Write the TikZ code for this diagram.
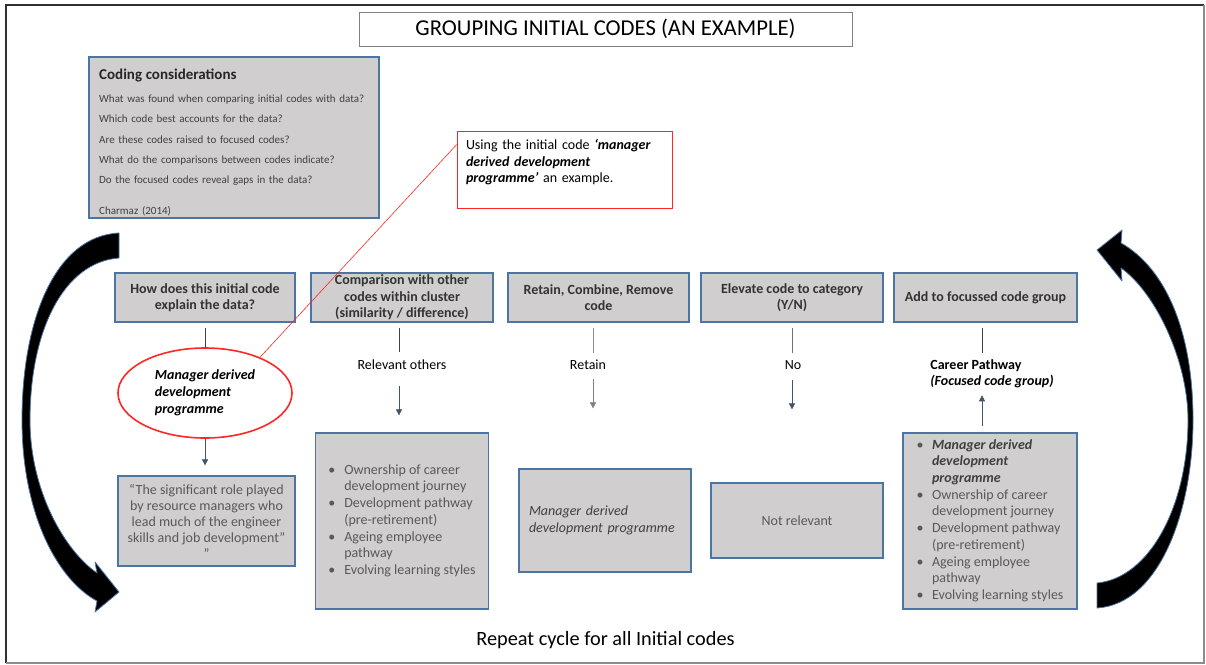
\documentclass[tikz,border=0pt]{standalone}
\usepackage{fontspec}
\setmainfont{Carlito}
\usetikzlibrary{shapes.geometric,arrows.meta}
\definecolor{boxfill}{HTML}{D0CECE}
\definecolor{boxline}{HTML}{4A75A5}
\definecolor{hdtext}{HTML}{333333}
\definecolor{bodytext}{HTML}{595959}
\definecolor{darktext}{HTML}{404040}
\definecolor{arrowc}{HTML}{44546A}
\definecolor{redc}{HTML}{FF2626}
\definecolor{framec}{HTML}{303030}
\newcommand{\fsz}[2]{\fontsize{#1}{#2}\selectfont}
\newcommand{\bulit}{\makebox[16pt][l]{•}}
\newcommand{\bulitb}{\makebox[15.5pt][l]{•}}
\begin{document}
\begin{tikzpicture}[x=1pt,y=-1pt,
  graybox/.style={draw=boxline, line width=1.2pt, fill=boxfill, inner sep=0pt},
  headbox/.style={graybox, minimum height=49pt, text=hdtext, font=\fsz{14}{16.5}\bfseries, align=center},
  bodybox/.style={graybox, text=bodytext, font=\fsz{14}{16.7}},
  lbl/.style={inner sep=0pt, text height=10pt, text depth=3.5pt, font=\fsz{14}{16.5}},
  conn/.style={draw=black!75, line width=0.6pt},
  arr/.style={draw=arrowc, line width=0.6pt, -{Triangle[width=6pt,length=6pt]}},
  bigarrow/.style={fill=black, draw=boxline, line width=0.8pt, line join=round},
]
\useasboundingbox (0,0) rectangle (1206,664);
\fill[white] (0,0) rectangle (1206,664);
% frame
\draw[framec, line width=2pt] (6,663) -- (6,5) -- (1204,5);
\draw[black!45, line width=1.5pt] (1204,5) -- (1204,663) -- (6,663);

% title
\node[draw=black!50, line width=0.8pt, minimum width=493pt, minimum height=34pt, inner sep=0pt, font=\fsz{22.7}{24}] (title) at (605.5,29) {GROUPING INITIAL CODES (AN EXAMPLE)};

% coding considerations
\node[graybox, minimum width=290pt, minimum height=161pt] (cc) at (234,137.5) {};
\node[anchor=north west, inner sep=0pt, text width=275pt, align=left, text=darktext, font=\fsz{11}{20.4}] (cctext) at (99,68.6)
 {{\fsz{15}{16}\bfseries\color{black!85} Coding considerations}\\[2.6pt]
  What was found when comparing initial codes with data?\\
  Which code best accounts for the data?\\
  Are these codes raised to focused codes?\\
  What do the comparisons between codes indicate?\\
  Do the focused codes reveal gaps in the data?\\[10pt]
  Charmaz (2014)};

% big curved arrows
\path[bigarrow] (119,233) .. controls (55,236) and (22,320) .. (22,420)
  .. controls (22,510) and (55,578) .. (97,601) -- (95,612) -- (119,592) -- (95,562) -- (97,573)
  .. controls (64,550) and (30,490) .. (30,420)
  .. controls (30,330) and (64,262) .. (119,258) -- cycle;
\path[bigarrow] (1097,608) .. controls (1160,604) and (1193,510) .. (1193,420)
  .. controls (1193,330) and (1165,268) .. (1121,243) -- (1122,230) -- (1097,250) -- (1122,281) -- (1121,268)
  .. controls (1155,292) and (1188,360) .. (1188,420)
  .. controls (1188,505) and (1150,578) .. (1097,583) -- cycle;

% header boxes
\node[headbox, minimum width=180pt] (h1) at (205,297.5) {How does this initial code\\explain the data?};
\node[headbox, minimum width=182pt] (h2) at (402,297.5) {Comparison with other\\codes within cluster\\(similarity / difference)};
\node[headbox, minimum width=181pt] (h3) at (598.5,297.5) {Retain, Combine, Remove\\code};
\node[headbox, minimum width=182pt] (h4) at (792,297.5) {Elevate code to category\\(Y/N)};
\node[headbox, minimum width=183pt] (h5) at (985.5,297.5) {Add to focussed code group};

% column coordinates
\coordinate (c1) at (205,0);
\coordinate (c2) at (399,0);
\coordinate (c3) at (593,0);
\coordinate (c4) at (792,0);
\coordinate (c5) at (982,0);

% red example box and leader line
\node[draw=redc, line width=0.8pt, fill=white, minimum width=215pt, minimum height=77pt, inner sep=0pt,
      text width=197pt, align=left, font=\fsz{14}{16.5}] (rb) at (564.5,169.5)
 {Using the initial code \textbf{\textit{‘manager}}\\\textbf{\textit{derived development}}\\\textbf{\textit{programme’}} an example.\\\mbox{}};

% ellipse
\node[ellipse, draw=redc, line width=1.6pt, fill=white, minimum width=174pt, minimum height=90pt, inner sep=0pt,
      align=left, font=\fsz{14}{17}\bfseries\itshape] (ell) at (205,393) {Manager derived\\development\\programme};
\draw[redc, line width=0.6pt] (rb.167) -- (ell.33);

% quote box
\node[bodybox, minimum width=177pt, minimum height=90pt, align=center, font=\fsz{14}{16}] (q) at (206.5,521)
 {“The significant role played\\by resource managers who\\lead much of the engineer\\skills and job development”\\”};

% column 2
\node[lbl] (l2) at (402,366) {Relevant others};
\node[bodybox, minimum width=173pt, minimum height=176pt] (b2) at (402,521)
 {\begin{tabular}{@{}l@{}l@{}}
  \bulit & Ownership of career\\
   & development journey\\
  \bulit & Development pathway\\
   & (pre-retirement)\\
  \bulit & Ageing employee\\
   & pathway\\
  \bulit & Evolving learning styles
 \end{tabular}};

% column 3
\node[lbl] (l3) at (588,366) {Retain};
\node[bodybox, minimum width=172pt, minimum height=103pt, text width=152pt, align=left, text=darktext, font=\fsz{14}{17}\itshape] (b3) at (605,520.5)
 {Manager derived\\development programme};

% column 4
\node[lbl] (l4) at (793,366) {No};
\node[bodybox, minimum width=172pt, minimum height=75pt] (b4) at (797,520.5) {Not relevant};

% column 5
\node[inner sep=0pt, align=left, font=\fsz{14}{16}\bfseries] (l5) at (992,374) {Career Pathway\\\textit{(Focused code group)}};
\node[bodybox, minimum width=174pt, minimum height=176pt] (b5) at (990,521)
 {\begin{tabular}{@{}l@{}l@{}}
  \bulitb & \textcolor{darktext}{\textbf{\textit{Manager derived}}}\\
   & \textcolor{darktext}{\textbf{\textit{development}}}\\
   & \textcolor{darktext}{\textbf{\textit{programme}}}\\
  \bulitb & Ownership of career\\
   & development journey\\
  \bulitb & Development pathway\\
   & (pre-retirement)\\
  \bulitb & Ageing employee\\
   & pathway\\
  \bulitb & Evolving learning styles
 \end{tabular}};

% connectors
\draw[conn, shorten <=5pt] (h1.south -| c1) -- (ell.north -| c1);
\draw[arr, shorten >=10pt] (ell.south -| c1) -- (q.north -| c1);
\draw[conn, shorten <=5pt, shorten >=7pt] (h2.south -| c2) -- (l2.north -| c2);
\draw[arr, shorten <=13pt, shorten >=17pt] (l2.south -| c2) -- (b2.north -| c2);
\draw[conn, draw=black!45, shorten <=5pt, shorten >=6pt] (h3.south -| c3) -- (l3.north -| c3);
\draw[arr, draw=black!50, shorten <=6pt, shorten >=60pt] (l3.south -| c3) -- (b3.north -| c3);
\draw[conn, draw=black!55, shorten <=5pt, shorten >=6pt] (h4.south -| c4) -- (l4.north -| c4);
\draw[arr, shorten <=7pt, shorten >=73pt] (l4.south -| c4) -- (b4.north -| c4);
\draw[conn, shorten <=5pt, shorten >=7pt] (h5.south -| c5) -- (l5.north -| c5);
\draw[arr, shorten <=6pt, shorten >=7pt] (b5.north -| c5) -- (l5.south -| c5);

% footer
\node[inner sep=0pt, font=\fsz{20.3}{22}] (rep) at (605.5,640) {Repeat cycle for all Initial codes};
\end{tikzpicture}
\end{document}
